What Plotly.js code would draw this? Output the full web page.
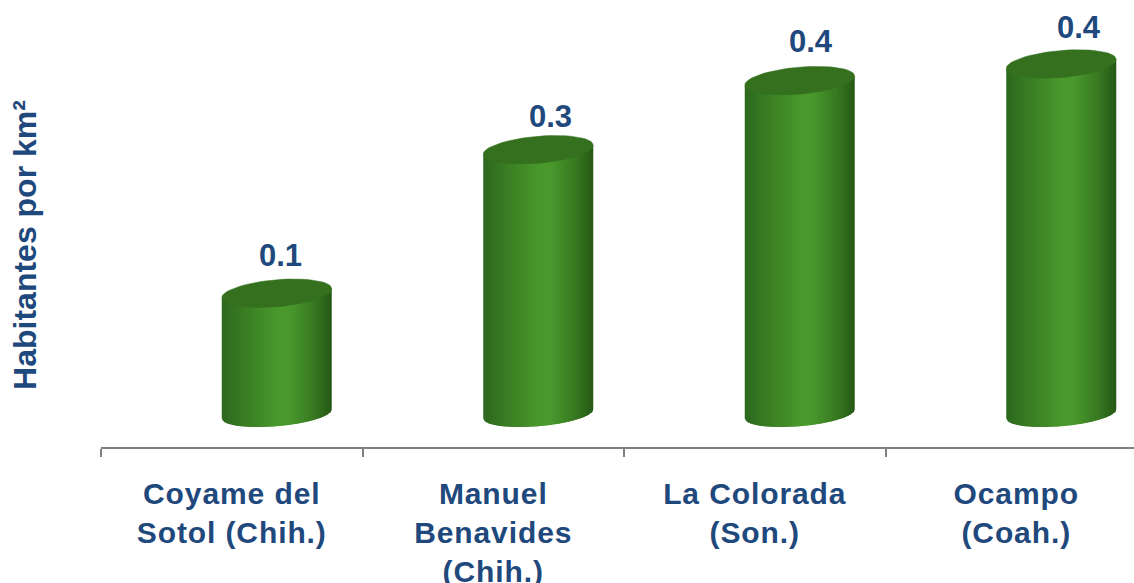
<!DOCTYPE html>
<html><head><meta charset="utf-8">
<script src="https://cdn.plot.ly/plotly-3.0.1.min.js"></script>
<style>html,body{margin:0;padding:0;background:#fff;overflow:hidden}
#chart .xtick text{letter-spacing:0.9px}</style>
</head><body><div id="chart" style="width:1134px;height:583px"></div>
<script>
const categories = ["Coyame del<br>Sotol (Chih.)","Manuel<br>Benavides<br>(Chih.)","La Colorada<br>(Son.)","Ocampo<br>(Coah.)"];
const values = [0.138, 0.302, 0.381, 0.400];
const valueLabels = ["0.1","0.3","0.4","0.4"];
const labelShiftX = [4, 12, 11, 18];
const labelLift = [38, 33, 39, 37];

const W = 1134, H = 583, L = 101, T = 43, B = 136;
const unitPx = 261.5, valuePx = 875;
const barShift = 45/unitPx, halfW = 55/unitPx;
const tiltV = 4.5/valuePx, minorV = 13.5/valuePx, minorBottom = 12.2/valuePx;
const STRIPS = 44;
const stops = [[0,[44,104,30]],[0.18,[56,122,34]],[0.5,[72,152,44]],[0.62,[72,152,44]],[0.85,[54,118,32]],[1,[38,88,22]]];
function colorAt(t){
  for(let i=1;i<stops.length;i++){ if(t<=stops[i][0]){
    const a=stops[i-1],b=stops[i],k=(t-a[0])/(b[0]-a[0]);
    return 'rgb('+a[1].map((c,j)=>Math.round(c+(b[1][j]-c)*k)).join(',')+')';
  }}
  return 'rgb(38,88,22)';
}
const traces = [];
for(let s=0;s<STRIPS;s++){
  const xs=[],ys=[];
  const u0=-1+2*s/STRIPS,u1=Math.min(1,-1+2*(s+1)/STRIPS+0.03);
  values.forEach((v,i)=>{
    const cx=i+barShift;
    const bot=u=>tiltV*u-minorBottom*Math.sqrt(Math.max(0,1-u*u));
    const n=3;
    for(let k=0;k<=n;k++){const u=u0+(u1-u0)*k/n;xs.push(cx+halfW*u);ys.push(bot(u));}
    xs.push(cx+halfW*u1,cx+halfW*u0,cx+halfW*u0,null);
    ys.push(v+tiltV*u1,v+tiltV*u0,bot(u0),null);
  });
  const col=colorAt((s+0.5)/STRIPS);
  traces.push({type:'scatter',mode:'lines',x:xs,y:ys,fill:'toself',fillcolor:col,line:{width:0,color:col},hoverinfo:'skip',showlegend:false,cliponaxis:false});
}
const capX=[],capY=[];
values.forEach((v,i)=>{
  for(let d=0;d<=360;d+=6){
    const t=d*Math.PI/180,u=Math.cos(t);
    capX.push(i+barShift+halfW*u);
    capY.push(v+tiltV*u+minorV*Math.sin(t));
  }
  capX.push(null);capY.push(null);
});
traces.push({type:'scatter',mode:'lines',x:capX,y:capY,fill:'toself',fillcolor:'#35701f',line:{color:'#35701f',width:0.5},hoverinfo:'skip',showlegend:false,cliponaxis:false});

const font={family:'"Liberation Sans",Arial,sans-serif',color:'#1f497d',weight:700};
const annotations=values.map((v,i)=>({x:i+barShift,y:v,xref:'x',yref:'y',text:valueLabels[i],showarrow:false,
  xshift:labelShiftX[i],yshift:labelLift[i],font:Object.assign({},font,{size:31}),xanchor:'center',yanchor:'middle'}));

Plotly.newPlot('chart',traces,{
  width:W,height:H,margin:{l:L,r:0,t:T,b:B},paper_bgcolor:'#fff',plot_bgcolor:'#fff',showlegend:false,
  xaxis:{range:[-0.5,(W-L)/unitPx-0.5],tickmode:'array',tickvals:[0,1,2,3],ticktext:categories,
    ticks:'',showgrid:false,zeroline:false,showline:true,linecolor:'#7f7f7f',linewidth:2,ticklabelstandoff:19,
    tickfont:Object.assign({},font,{size:30}),tickangle:0,
    minor:{tickmode:'array',tickvals:[-0.5,0.5,1.5,2.5],ticks:'outside',ticklen:8,tickwidth:2,tickcolor:'#7f7f7f',showgrid:false}},
  yaxis:{range:[-33/valuePx,(447-T-33)/valuePx],showticklabels:false,ticks:'',showgrid:false,zeroline:false,showline:false,
    title:{text:'Habitantes por km²',font:Object.assign({},font,{size:32}),standoff:53}},
  annotations:annotations
},{displayModeBar:false,staticPlot:true});
</script></body></html>
